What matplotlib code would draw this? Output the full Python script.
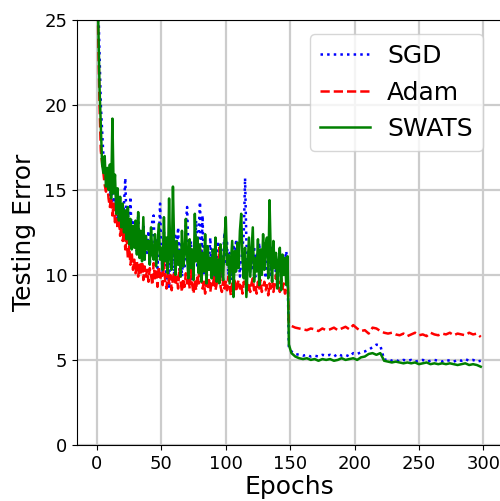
import numpy as np
import matplotlib
matplotlib.use("Agg")
import matplotlib.pyplot as plt

# epochs 0..149 (noisy phase), one value per epoch
sgd_a = [
    31, 26, 23, 20, 18.5, 17, 16.2, 15.5, 15.8, 15.0,
    14.6, 15.2, 14.0, 15.6, 13.8, 14.8, 13.2, 14.5, 12.9, 13.8,
    12.5, 14.2, 15.7, 12.8, 13.9, 12.2, 14.6, 12.0, 13.1, 11.6,
    12.9, 11.4, 13.6, 11.8, 12.4, 11.2, 13.0, 10.9, 12.1, 11.3,
    12.6, 10.6, 11.8, 13.3, 13.5, 11.0, 12.2, 10.4, 11.9, 14.2,
    11.3, 10.2, 12.5, 11.0, 9.8, 11.7, 9.2, 12.1, 10.6, 11.4,
    10.0, 12.3, 11.1, 12.8, 10.3, 11.8, 9.9, 11.2, 10.5, 13.0,
    14.0, 11.5, 10.2, 12.0, 9.6, 11.3, 10.8, 13.2, 10.4, 12.6,
    14.3, 11.0, 13.5, 10.1, 11.8, 9.9, 11.4, 10.6, 12.2, 10.3,
    11.6, 9.5, 11.0, 10.2, 12.0, 10.8, 11.5, 9.8, 11.2, 12.5,
    10.6, 11.9, 10.0, 11.3, 9.7, 10.9, 11.8, 10.2, 12.1, 10.5,
    11.2, 9.9, 10.8, 11.6, 12.4, 15.7, 12.0, 10.3, 11.5, 10.1,
    11.0, 10.4, 11.7, 9.9, 11.3, 10.7, 11.9, 10.2, 11.4, 10.6,
    11.1, 9.8, 11.5, 10.4, 11.2, 10.0, 11.6, 10.5, 11.0, 9.9,
    10.8, 10.2, 11.3, 9.6, 10.7, 10.1, 10.9, 11.4, 10.4, 5.7,
]
adam_a = [
    30, 24, 20, 17.3, 16.6, 16.0, 15.3, 14.9, 15.4, 14.5,
    14.0, 14.6, 13.5, 14.2, 13.1, 13.8, 12.7, 13.4, 12.3, 12.9,
    12.0, 12.6, 11.5, 12.2, 11.0, 11.7, 10.6, 11.3, 10.3, 10.9,
    10.1, 10.8, 9.9, 10.6, 10.0, 11.2, 9.7, 10.5, 9.9, 10.3,
    9.6, 10.4, 10.0, 9.4, 10.7, 9.8, 10.2, 9.3, 10.5, 9.7,
    10.1, 9.4, 10.8, 9.6, 9.2, 10.3, 9.5, 10.0, 9.1, 9.8,
    10.2, 9.4, 9.9, 9.2, 10.4, 9.6, 9.0, 9.8, 9.3, 10.1,
    9.5, 9.9, 9.2, 10.3, 9.4, 8.9, 9.7, 9.1, 10.0, 9.5,
    11.5, 9.8, 9.2, 9.6, 8.9, 9.9, 9.3, 9.7, 9.0, 9.6,
    9.4, 10.0, 9.1, 9.5, 9.8, 11.6, 9.3, 9.0, 9.7, 9.2,
    9.6, 9.1, 9.9, 9.3, 8.8, 9.5, 9.2, 9.8, 9.0, 9.4,
    9.7, 9.2, 9.5, 8.9, 9.6, 9.3, 9.9, 9.1, 9.4, 9.0,
    9.5, 9.8, 9.1, 9.4, 8.9, 9.6, 9.2, 9.7, 9.0, 9.3,
    9.6, 9.1, 9.4, 8.8, 9.5, 9.2, 9.7, 9.0, 9.4, 10.0,
    9.3, 9.6, 9.0, 9.8, 9.2, 9.5, 8.9, 9.4, 10.1, 7.2,
]
swats_a = [
    30, 25, 21, 18.8, 16.5, 16.0, 17.0, 15.2, 16.3, 15.0,
    16.5, 14.5, 19.2, 14.8, 15.9, 13.6, 15.1, 13.2, 14.6, 12.8,
    14.2, 12.5, 13.8, 12.1, 14.0, 11.8, 13.3, 11.5, 12.9, 11.6,
    13.2, 11.2, 13.7, 11.0, 12.6, 10.8, 13.4, 10.9, 12.3, 11.5,
    12.0, 10.6, 12.8, 11.2, 10.9, 12.4, 10.5, 11.8, 13.0, 10.9,
    11.6, 10.3, 13.4, 10.8, 12.2, 10.1, 14.5, 11.0, 10.3, 15.2,
    11.5, 10.0, 12.0, 10.6, 11.4, 9.9, 12.6, 10.5, 11.2, 13.3,
    11.0, 9.8, 12.1, 10.4, 11.5, 9.7, 13.6, 10.8, 12.2, 10.1,
    11.8, 9.6, 11.3, 10.2, 12.4, 9.5, 11.7, 10.3, 11.0, 9.8,
    11.5, 10.0, 12.2, 9.6, 10.9, 9.5, 11.8, 10.4, 9.7, 12.0,
    13.4, 10.6, 11.2, 9.5, 10.8, 12.0, 8.7, 11.4, 10.2, 11.9,
    10.4, 12.6, 13.6, 10.9, 9.8, 11.6, 8.7, 10.5, 12.2, 9.9,
    11.3, 12.8, 9.6, 11.0, 10.2, 12.1, 9.4, 11.5, 10.0, 12.4,
    10.3, 11.8, 12.2, 9.8, 14.4, 11.0, 9.6, 12.0, 10.4, 11.3,
    9.2, 10.8, 11.6, 9.1, 11.2, 10.0, 11.0, 9.4, 11.1, 5.9,
]

# epochs 151..298 (after lr decay), every 3rd epoch
sgd_b = [
    5.5, 5.35, 5.3, 5.25, 5.3, 5.2, 5.25, 5.2, 5.3, 5.25,
    5.3, 5.2, 5.35, 5.25, 5.3, 5.2, 5.4, 5.35, 5.45, 5.5,
    5.6, 5.75, 5.9, 5.85, 5.0, 5.05, 4.95, 5.0, 4.9, 5.0,
    4.95, 5.0, 4.9, 4.95, 5.0, 4.9, 4.95, 5.0, 4.95, 4.9,
    5.0, 4.95, 4.9, 5.0, 4.95, 5.05, 4.95, 5.0, 4.9, 4.95,
]
adam_b = [
    7.0, 6.9, 6.85, 6.8, 6.75, 6.85, 6.8, 6.7, 6.85, 6.75,
    6.8, 6.9, 6.75, 6.85, 6.95, 6.8, 7.05, 6.85, 6.7, 6.75,
    6.55, 6.9, 6.85, 6.7, 6.6, 6.55, 6.6, 6.5, 6.45, 6.55,
    6.4, 6.5, 6.6, 6.45, 6.5, 6.4, 6.6, 6.5, 6.45, 6.55,
    6.5, 6.6, 6.45, 6.55, 6.5, 6.45, 6.6, 6.5, 6.55, 6.35,
]
swats_b = [
    5.4, 5.2, 5.1, 5.05, 5.1, 5.0, 5.05, 4.95, 5.05, 5.0,
    5.05, 4.95, 5.0, 5.1, 5.0, 5.05, 5.1, 5.0, 5.15, 5.2,
    5.35, 5.4, 5.3, 5.4, 4.95, 4.9, 4.85, 4.9, 4.85, 4.8,
    4.85, 4.8, 4.85, 4.75, 4.8, 4.85, 4.75, 4.8, 4.75, 4.8,
    4.75, 4.8, 4.75, 4.7, 4.75, 4.8, 4.7, 4.75, 4.7, 4.6,
]

epochs = np.concatenate([np.arange(150), np.arange(151, 300, 3)])
sgd = np.array(sgd_a + sgd_b)
adam = np.array(adam_a + adam_b)
swats = np.array(swats_a + swats_b)

fig = plt.figure(figsize=(5.0, 5.01), dpi=100)
ax = fig.add_axes([0.154, 0.112, 0.85, 0.848])

ax.plot(epochs, sgd, "b:", linewidth=1.8, label="SGD")
ax.plot(epochs, adam, "r--", linewidth=1.8, label="Adam")
ax.plot(epochs, swats, "g-", linewidth=1.8, label="SWATS")

ax.set_xlim(-15.5, 314.5)
ax.set_ylim(0, 25)
ax.set_xticks([0, 50, 100, 150, 200, 250, 300])
ax.set_yticks([0, 5, 10, 15, 20, 25])
ax.grid(True, color="#cccccc", linewidth=1.6)
ax.tick_params(labelsize=13)
ax.set_xlabel("Epochs", fontsize=18, labelpad=2)
ax.set_ylabel("Testing Error", fontsize=18, labelpad=6)
ax.legend(fontsize=18, loc="upper right", bbox_to_anchor=(0.955, 0.967),
          borderaxespad=0, handletextpad=0.7)

fig.savefig("out.png", dpi=100)
